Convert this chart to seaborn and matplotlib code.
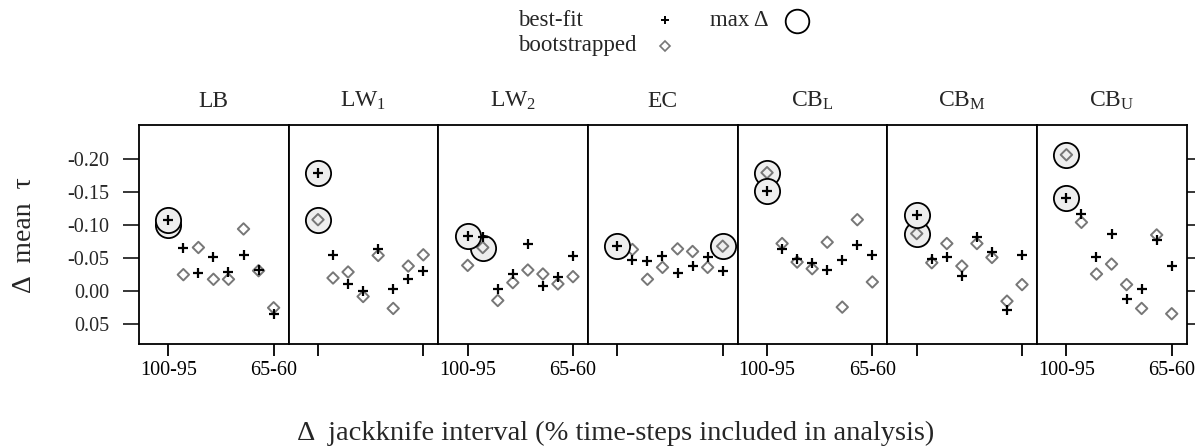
import numpy as np
import pandas as pd
import matplotlib.pyplot as plt
import seaborn as sns
from matplotlib.lines import Line2D

# panels (facets) and jackknife intervals
panels = ["LB", "LW1", "LW2", "EC", "CBL", "CBM", "CBU"]
panel_titles = ["LB", "LW$_1$", "LW$_2$", "EC",
                r"CB$_\mathrm{L}$", r"CB$_\mathrm{M}$", r"CB$_\mathrm{U}$"]
intervals = ["100-95", "95-90", "90-85", "85-80", "80-75", "75-70", "70-65", "65-60"]

# delta mean tau, one row per panel
best_fit = [
    [-0.108, -0.066, -0.028, -0.052, -0.029, -0.055, -0.032, 0.035],
    [-0.179, -0.055, -0.011, -0.001, -0.063, -0.003, -0.019, -0.031],
    [-0.083, -0.082, -0.003, -0.026, -0.071, -0.008, -0.021, -0.053],
    [-0.068, -0.047, -0.046, -0.053, -0.028, -0.038, -0.052, -0.030],
    [-0.151, -0.064, -0.049, -0.042, -0.032, -0.047, -0.070, -0.054],
    [-0.115, -0.048, -0.051, -0.023, -0.082, -0.059, 0.029, -0.055],
    [-0.141, -0.117, -0.051, -0.087, 0.011, -0.003, -0.077, -0.038],
]
bootstrapped = [
    [-0.100, -0.025, -0.066, -0.018, -0.018, -0.094, -0.031, 0.025],
    [-0.108, -0.020, -0.029, 0.008, -0.054, 0.026, -0.038, -0.055],
    [-0.039, -0.066, 0.014, -0.013, -0.032, -0.026, -0.011, -0.022],
    [-0.065, -0.063, -0.018, -0.036, -0.064, -0.060, -0.036, -0.068],
    [-0.179, -0.072, -0.044, -0.034, -0.074, 0.024, -0.108, -0.014],
    [-0.087, -0.043, -0.072, -0.038, -0.072, -0.051, 0.015, -0.010],
    [-0.206, -0.104, -0.026, -0.041, -0.010, 0.026, -0.085, 0.034],
]
yticks = [-0.20, -0.15, -0.10, -0.05, 0.00, 0.05]

# long-form table
rows = []
for p, bf, bs in zip(panels, best_fit, bootstrapped):
    for series, vals in (("best-fit", bf), ("bootstrapped", bs)):
        imax = int(np.argmax(np.abs(vals)))
        for i, v in enumerate(vals):
            rows.append({"panel": p, "step": i, "interval": intervals[i],
                         "series": series, "value": v, "is_max": i == imax})
df = pd.DataFrame(rows)

sns.set_theme(style="ticks")
plt.rcParams["font.family"] = ["Liberation Serif", "DejaVu Serif"]
plt.rcParams["mathtext.fontset"] = "custom"
plt.rcParams["mathtext.rm"] = "Liberation Serif"
plt.rcParams["mathtext.it"] = "Liberation Serif:italic"
plt.rcParams["axes.unicode_minus"] = False
plt.rcParams["axes.edgecolor"] = "black"
plt.rcParams["axes.linewidth"] = 1.3


def draw_panel(data, **kws):
    ax = plt.gca()
    boot = data[data["series"] == "bootstrapped"]
    best = data[data["series"] == "best-fit"]
    sns.scatterplot(data=boot[boot["is_max"]], x="step", y="value", ax=ax, s=330,
                    marker="o", color="#eeeeee", edgecolor="black", linewidth=1.3, zorder=2)
    sns.scatterplot(data=boot, x="step", y="value", ax=ax, s=34, marker="D",
                    facecolor="none", edgecolor="#777777", linewidth=1.4, zorder=3)
    sns.scatterplot(data=best[best["is_max"]], x="step", y="value", ax=ax, s=330,
                    marker="o", color="#eeeeee", edgecolor="black", linewidth=1.3, zorder=4)
    sns.scatterplot(data=best, x="step", y="value", ax=ax, s=50, marker="+",
                    color="black", linewidth=1.6, zorder=5)


g = sns.FacetGrid(df, col="panel", col_order=panels, sharex=False, sharey=True,
                  height=4.47, aspect=0.2, despine=False)
g.map_dataframe(draw_panel)
fig = g.figure
fig.set_size_inches(11.95, 4.47)
fig.subplots_adjust(left=0.1163, right=0.9931, bottom=0.2304, top=0.7204, wspace=0)

for i, ax in enumerate(g.axes.flat):
    ax.set_title(panel_titles[i], fontsize=17, pad=13)
    ax.set_xlabel("")
    ax.set_ylabel("")
    ax.set_xlim(-1.95, 8.0)
    ax.set_ylim(0.0797, -0.251)
    ax.set_xticks([0, 7])
    ax.set_xticklabels([intervals[0], intervals[-1]])
    ax.tick_params(axis="x", direction="out", length=8.6, width=1.3, pad=3.5,
                   labelsize=14.5, colors="black", labelbottom=(i % 2 == 0))
    ax.set_yticks(yticks)
    ax.set_yticklabels([f"{t:.2f}" for t in yticks])
    ax.tick_params(axis="y", direction="out", length=11.5, width=1.3, pad=10,
                   labelsize=14.5, left=(i == 0), labelleft=(i == 0),
                   right=(i == len(panels) - 1), labelright=False)
    ax.grid(False)

# axis labels
fig.text(25 / 1195, 1 - 235 / 447, "\u0394  mean  \u03c4", rotation=90,
         ha="center", va="center", fontsize=20)
fig.text(616 / 1195, 1 - 433 / 447,
         "\u0394  jackknife interval (% time-steps included in analysis)",
         ha="center", va="center", fontsize=20.5)

# legend drawn by hand at the top
fig.text(518 / 1195, 1 - 20 / 447, "best-fit", ha="left", va="center", fontsize=16.5)
fig.text(518 / 1195, 1 - 46 / 447, "bootstrapped", ha="left", va="center", fontsize=16.5)
fig.text(710 / 1195, 1 - 20 / 447, "max \u0394", ha="left", va="center", fontsize=16.5)
fig.add_artist(Line2D([665 / 1195], [1 - 20 / 447], transform=fig.transFigure,
                      marker="+", markersize=5.5, markeredgewidth=1.4, color="black", linestyle=""))
fig.add_artist(Line2D([665 / 1195], [1 - 46 / 447], transform=fig.transFigure,
                      marker="D", markersize=5, markeredgewidth=1.2, markerfacecolor="none",
                      markeredgecolor="#777777", linestyle=""))
fig.add_artist(Line2D([797 / 1195], [1 - 21 / 447], transform=fig.transFigure,
                      marker="o", markersize=17, markeredgewidth=1.3, markerfacecolor="white",
                      markeredgecolor="black", linestyle=""))

fig.savefig("out.png", dpi=100)
